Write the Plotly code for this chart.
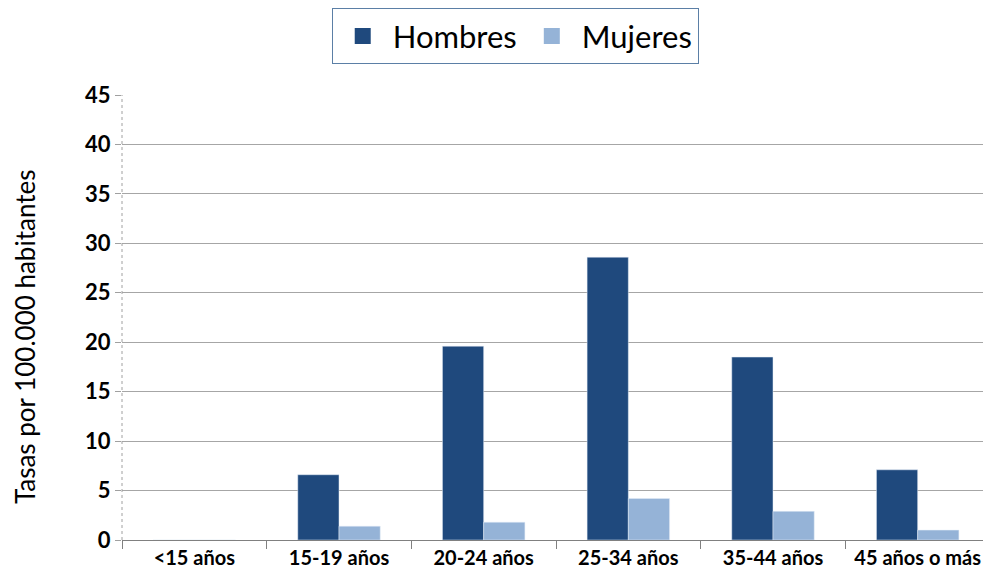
import plotly.graph_objects as go

categories = ["<15 años", "15-19 años", "20-24 años", "25-34 años", "35-44 años", "45 años o más"]
hombres = [0, 6.6, 19.6, 28.6, 18.5, 7.1]
mujeres = [0, 1.4, 1.8, 4.2, 2.9, 1.0]
y_ticks = [0, 5, 10, 15, 20, 25, 30, 35, 40, 45]
series_names = ["Hombres", "Mujeres"]
colors = ["#1F497D", "#95B3D7"]

fig = go.Figure()
fig.add_trace(go.Bar(name=series_names[0], x=categories, y=hombres, marker_color=colors[0], showlegend=False))
fig.add_trace(go.Bar(name=series_names[1], x=categories, y=mujeres, marker_color=colors[1], showlegend=False))
# legend-only entries with square swatches
for n, c in zip(series_names, colors):
    fig.add_trace(go.Scatter(name=n, x=[None], y=[None], mode="markers",
                             marker=dict(symbol="square", size=21, color=c)))

fig.update_layout(
    width=983, height=577,
    margin=dict(l=114, r=1, t=87, b=45, autoexpand=False),
    paper_bgcolor="white", plot_bgcolor="white",
    barmode="group", bargap=0.43, bargroupgap=0,
    font=dict(family="Lato, Open Sans, sans-serif", color="#000000"),
    legend=dict(
        orientation="h", xref="container", yref="container",
        x=0.516, xanchor="center", y=0.951, yanchor="middle",
        bordercolor="#5B7FA6", borderwidth=1,
        font=dict(size=31, family="Lato, sans-serif"),
        itemsizing="trace", itemwidth=50,
    ),
    showlegend=True,
)
fig.update_xaxes(
    type="category", tickson="boundaries", ticks="outside", ticklen=8,
    tickcolor="#808080", showline=True, linecolor="#808080", linewidth=1,
    tickfont=dict(size=20, family="Lato, sans-serif", weight="bold"),
    showgrid=False, automargin=False,
)
fig.update_yaxes(
    range=[0, 45], tickvals=y_ticks, ticks="outside", ticklen=6, tickcolor="#A0A0A0",
    showgrid=True, gridcolor="#A6A6A6", gridwidth=1,
    showline=False, zeroline=False, automargin=False,
    tickfont=dict(size=22, family="Lato, sans-serif", weight="bold"),
)
fig.add_annotation(text="Tasas por 100.000 habitantes", textangle=-90,
                   xref="paper", yref="paper", x=-0.1117, y=0.456,
                   xanchor="center", yanchor="middle", showarrow=False,
                   font=dict(size=26, family="Lato, sans-serif", color="#000000"))
fig.add_shape(type="line", xref="paper", yref="y", x0=0, x1=0, y0=0, y1=45,
              line=dict(color="#A0A0A0", width=1, dash="dot"))

fig.write_html("out.html")
